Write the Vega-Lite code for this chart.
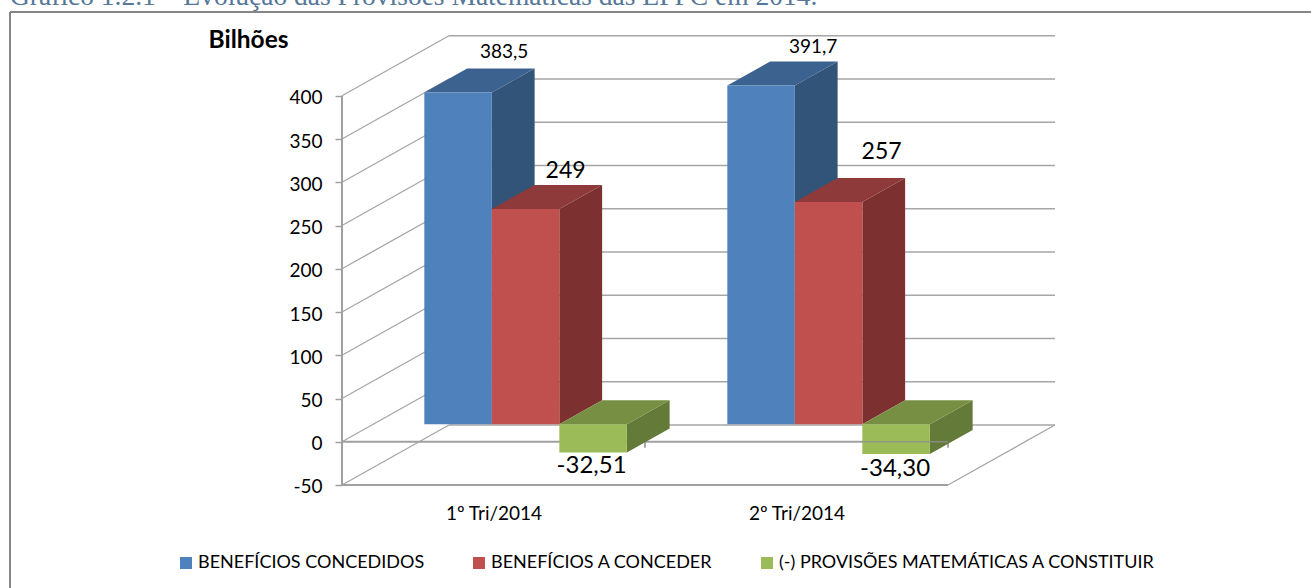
{
"$schema":"https://vega.github.io/schema/vega-lite/v6.json",
"width":1301,"height":576,"autosize":{"type":"none"},
"padding":{"left":10,"top":12,"right":0,"bottom":0},
"background":"white",
"config":{"view":{"stroke":null},"font":"Lato"},
"datasets":{
"barras":[
{"periodo":"1º Tri/2014","serie":"BENEFÍCIOS CONCEDIDOS","valor":383.5,"rotulo":"383,5"},
{"periodo":"1º Tri/2014","serie":"BENEFÍCIOS A CONCEDER","valor":249,"rotulo":"249"},
{"periodo":"1º Tri/2014","serie":"(-) PROVISÕES MATEMÁTICAS A CONSTITUIR","valor":-32.51,"rotulo":"-32,51"},
{"periodo":"2º Tri/2014","serie":"BENEFÍCIOS CONCEDIDOS","valor":391.7,"rotulo":"391,7"},
{"periodo":"2º Tri/2014","serie":"BENEFÍCIOS A CONCEDER","valor":257,"rotulo":"257"},
{"periodo":"2º Tri/2014","serie":"(-) PROVISÕES MATEMÁTICAS A CONSTITUIR","valor":-34.30,"rotulo":"-34,30"}],
"grade":[{"nivel":-50},{"nivel":0},{"nivel":50},{"nivel":100},{"nivel":150},{"nivel":200},{"nivel":250},{"nivel":300},{"nivel":350},{"nivel":400}],
"limites":[{"limite":0.5},{"limite":1.5},{"limite":2.5}]
},
"data":{"name":"barras"},
"transform":[
{"calculate":"indexof(['1º Tri/2014','2º Tri/2014'],datum.periodo)+1","as":"cat"},
{"calculate":"indexof(['BENEFÍCIOS CONCEDIDOS','BENEFÍCIOS A CONCEDER','(-) PROVISÕES MATEMÁTICAS A CONSTITUIR'],datum.serie)","as":"ordem"},
{"calculate":"datum.cat+(datum.ordem-1.5)*0.2228+0.1059","as":"xl"},
{"calculate":"datum.xl+0.2228","as":"xr"},
{"calculate":"datum.xl+0.1114","as":"xc"},
{"calculate":"max(datum.valor,0)+20.2","as":"yt"},
{"calculate":"min(datum.valor,0)+20.2","as":"yb"},
{"calculate":"datum.valor+20.2","as":"yv"}
],
"resolve":{"scale":{"color":"independent"}},
"layer":[
{"data":{"name":"grade"},"transform":[{"calculate":"datum.nivel+69.4","as":"yb"},{"calculate":"0.8531","as":"xa"},{"calculate":"2.8531","as":"xb"}],
 "mark":{"type":"rule","color":"#A6A6A6","strokeWidth":1.5},
 "encoding":{"x":{"field":"xa","type":"quantitative","scale":{"domain":[-0.5957,3.698]},"title":null,"axis":{"values":[1,2],"labelExpr":"datum.value==1?'1º Tri/2014':'2º Tri/2014'","domain":false,"ticks":false,"grid":false,"offset":-84,"labelFontSize":19,"labelColor":"#000","labelPadding":0,"labelFont":"Lato"}},"x2":{"field":"xb"},
 "y":{"field":"yb","type":"quantitative","scale":{"domain":[-169.1,496.9]},"title":"Bilhões","axis":{"values":[-50,0,50,100,150,200,250,300,350,400],"labelExpr":"''+datum.value","domain":false,"grid":false,"offset":-332,"tickSize":7,"tickColor":"#A0A0A0","tickWidth":1.5,"labelFontSize":19,"labelColor":"#000","labelPadding":13,"labelOffset":2,"labelFont":"Lato","titleX":-94,"titleY":28,"titleAngle":0,"titleAlign":"center","titleBaseline":"middle","titleFont":"Lato","titleFontSize":24.5,"titleFontWeight":"bold","titleColor":"#000"}}}},
{"data":{"name":"grade"},"transform":[{"calculate":"datum.nivel+69.4","as":"yb"},{"calculate":"0.5","as":"xa"},{"calculate":"0.8531","as":"xb"}],
 "mark":{"type":"rule","color":"#A6A6A6","strokeWidth":1.3},
 "encoding":{"x":{"field":"xa","type":"quantitative","scale":{"domain":[-0.5957,3.698]}},"x2":{"field":"xb"},"y":{"field":"nivel","type":"quantitative","scale":{"domain":[-169.1,496.9]}},"y2":{"field":"yb"}}},
{"data":{"name":"grade"},"transform":[{"filter":"datum.nivel==-50"},{"calculate":"69.4-50","as":"yb"},{"calculate":"2.5","as":"xa"},{"calculate":"2.8531","as":"xb"}],
 "mark":{"type":"rule","color":"#A6A6A6","strokeWidth":1.3},
 "encoding":{"x":{"field":"xa","type":"quantitative","scale":{"domain":[-0.5957,3.698]}},"x2":{"field":"xb"},"y":{"field":"nivel","type":"quantitative","scale":{"domain":[-169.1,496.9]}},"y2":{"field":"yb"}}},
{"data":{"name":"grade"},"transform":[{"filter":"datum.nivel<=0"},{"calculate":"0.5","as":"xa"},{"calculate":"2.5","as":"xb"}],
 "mark":{"type":"rule","color":"#A0A0A0","strokeWidth":1.8},
 "encoding":{"x":{"field":"xa","type":"quantitative","scale":{"domain":[-0.5957,3.698]}},"x2":{"field":"xb"},"y":{"field":"nivel","type":"quantitative","scale":{"domain":[-169.1,496.9]}}}},
{"data":{"name":"grade"},"transform":[{"filter":"datum.nivel==-50"},{"calculate":"400","as":"yb"},{"calculate":"0.5","as":"xa"}],
 "mark":{"type":"rule","color":"#A0A0A0","strokeWidth":2},
 "encoding":{"x":{"field":"xa","type":"quantitative","scale":{"domain":[-0.5957,3.698]}},"y":{"field":"nivel","type":"quantitative","scale":{"domain":[-169.1,496.9]}},"y2":{"field":"yb"}}},
{"data":{"name":"limites"},"transform":[{"calculate":"0","as":"ya"},{"calculate":"-7","as":"yb"}],
 "mark":{"type":"rule","color":"#A0A0A0","strokeWidth":1.8},
 "encoding":{"x":{"field":"limite","type":"quantitative","scale":{"domain":[-0.5957,3.698]}},"y":{"field":"ya","type":"quantitative","scale":{"domain":[-169.1,496.9]}},"y2":{"field":"yb"}}},
{"transform":[{"calculate":"[0,1]","as":"t"},{"flatten":["t"]},{"calculate":"datum.xr+datum.t*0.1412","as":"px"},{"calculate":"datum.yt+datum.t*27.76","as":"py"},{"calculate":"datum.yb+datum.t*27.76","as":"py2"}],
 "mark":{"type":"area","opacity":1,"line":false},
 "encoding":{"x":{"field":"px","type":"quantitative","scale":{"domain":[-0.5957,3.698]}},"y":{"field":"py","type":"quantitative","stack":null,"scale":{"domain":[-169.1,496.9]}},"y2":{"field":"py2"},"detail":{"field":"periodo"},
 "color":{"field":"serie","type":"nominal","legend":null,"scale":{"domain":["BENEFÍCIOS CONCEDIDOS","BENEFÍCIOS A CONCEDER","(-) PROVISÕES MATEMÁTICAS A CONSTITUIR"],"range":["#325479","#7C3030","#647A38"]}}}},
{"transform":[{"calculate":"[0,1]","as":"t"},{"flatten":["t"]},{"calculate":"datum.xl+datum.t*0.1412","as":"px"},{"calculate":"datum.xr+datum.t*0.1412","as":"px2"},{"calculate":"datum.yt+datum.t*27.76","as":"py"}],
 "mark":{"type":"area","orient":"horizontal","opacity":1,"line":false},
 "encoding":{"y":{"field":"py","type":"quantitative","scale":{"domain":[-169.1,496.9]}},"x":{"field":"px","type":"quantitative","stack":null,"scale":{"domain":[-0.5957,3.698]}},"x2":{"field":"px2"},"detail":{"field":"periodo"},
 "color":{"field":"serie","type":"nominal","legend":null,"scale":{"domain":["BENEFÍCIOS CONCEDIDOS","BENEFÍCIOS A CONCEDER","(-) PROVISÕES MATEMÁTICAS A CONSTITUIR"],"range":["#3C628F","#8F3A3A","#778F42"]}}}},
{"mark":{"type":"rect","opacity":1},
 "encoding":{"x":{"field":"xl","type":"quantitative","scale":{"domain":[-0.5957,3.698]}},"x2":{"field":"xr"},"y":{"field":"yt","type":"quantitative","scale":{"domain":[-169.1,496.9]}},"y2":{"field":"yb"},
 "color":{"field":"serie","type":"nominal","title":null,"scale":{"domain":["BENEFÍCIOS CONCEDIDOS","BENEFÍCIOS A CONCEDER","(-) PROVISÕES MATEMÁTICAS A CONSTITUIR"],"range":["#4F81BD","#C0504D","#9BBB59"]},
 "legend":{"orient":"none","direction":"horizontal","legendX":167,"legendY":542,"columns":3,"symbolType":"square","symbolSize":144,"symbolOpacity":1,"labelFontSize":18,"labelColor":"#000","labelFont":"Lato","labelLimit":500,"columnPadding":45,"labelOffset":3,"symbolStrokeWidth":0}}}},
{"transform":[{"filter":"datum.rotulo=='-34,30'"},{"calculate":"2.5","as":"xb"}],
 "mark":{"type":"rule","color":"#909090","strokeWidth":1.4,"opacity":0.8},
 "encoding":{"x":{"field":"xl","type":"quantitative","scale":{"domain":[-0.5957,3.698]}},"x2":{"field":"xb"},"y":{"datum":0,"type":"quantitative","scale":{"domain":[-169.1,496.9]}}}},
{"transform":[{"filter":"datum.rotulo=='383,5'"}],"mark":{"type":"text","fontSize":19,"dx":46,"dy":-41,"color":"#000"},"encoding":{"x":{"field":"xc","type":"quantitative","scale":{"domain":[-0.5957,3.698]}},"y":{"field":"yv","type":"quantitative","scale":{"domain":[-169.1,496.9]}},"text":{"field":"rotulo"}}},
{"transform":[{"filter":"datum.rotulo=='391,7'"}],"mark":{"type":"text","fontSize":19,"dx":52,"dy":-39,"color":"#000"},"encoding":{"x":{"field":"xc","type":"quantitative","scale":{"domain":[-0.5957,3.698]}},"y":{"field":"yv","type":"quantitative","scale":{"domain":[-169.1,496.9]}},"text":{"field":"rotulo"}}},
{"transform":[{"filter":"datum.rotulo=='249'"}],"mark":{"type":"text","fontSize":23,"dx":40,"dy":-38,"color":"#000"},"encoding":{"x":{"field":"xc","type":"quantitative","scale":{"domain":[-0.5957,3.698]}},"y":{"field":"yv","type":"quantitative","scale":{"domain":[-169.1,496.9]}},"text":{"field":"rotulo"}}},
{"transform":[{"filter":"datum.rotulo=='257'"}],"mark":{"type":"text","fontSize":23,"dx":53,"dy":-50,"color":"#000"},"encoding":{"x":{"field":"xc","type":"quantitative","scale":{"domain":[-0.5957,3.698]}},"y":{"field":"yv","type":"quantitative","scale":{"domain":[-169.1,496.9]}},"text":{"field":"rotulo"}}},
{"transform":[{"filter":"datum.rotulo=='-32,51'"}],"mark":{"type":"text","fontSize":24,"dx":-1.5,"dy":14,"color":"#000"},"encoding":{"x":{"field":"xc","type":"quantitative","scale":{"domain":[-0.5957,3.698]}},"y":{"field":"yv","type":"quantitative","scale":{"domain":[-169.1,496.9]}},"text":{"field":"rotulo"}}},
{"transform":[{"filter":"datum.rotulo=='-34,30'"}],"mark":{"type":"text","fontSize":24,"dx":-1,"dy":15,"color":"#000"},"encoding":{"x":{"field":"xc","type":"quantitative","scale":{"domain":[-0.5957,3.698]}},"y":{"field":"yv","type":"quantitative","scale":{"domain":[-169.1,496.9]}},"text":{"field":"rotulo"}}},
{"data":{"name":"limites"},"transform":[{"filter":"datum.limite==0.5"},{"calculate":"-0.5957","as":"xf"}],"mark":{"type":"rule","color":"#868686","strokeWidth":2},"encoding":{"x":{"field":"xf","type":"quantitative","scale":{"domain":[-0.5957,3.698]}}}},
{"data":{"name":"limites"},"transform":[{"filter":"datum.limite==0.5"},{"calculate":"496.9","as":"yf"}],"mark":{"type":"rule","color":"#868686","strokeWidth":2},"encoding":{"y":{"field":"yf","type":"quantitative","scale":{"domain":[-169.1,496.9]}}}},
{"data":{"name":"limites"},"transform":[{"filter":"datum.limite==0.5"},{"calculate":"-0.5957","as":"xf"},{"calculate":"505.5","as":"yf"},{"calculate":"'Gráfico 1.2.1 – Evolução das Provisões Matemáticas das EFPC em 2014.'","as":"legenda"}],"mark":{"type":"text","align":"left","baseline":"alphabetic","font":"Liberation Serif","fontSize":27.5,"color":"#557799","clip":false},"encoding":{"x":{"field":"xf","type":"quantitative","scale":{"domain":[-0.5957,3.698]}},"y":{"field":"yf","type":"quantitative","scale":{"domain":[-169.1,496.9]}},"text":{"field":"legenda"}}}
]
}
